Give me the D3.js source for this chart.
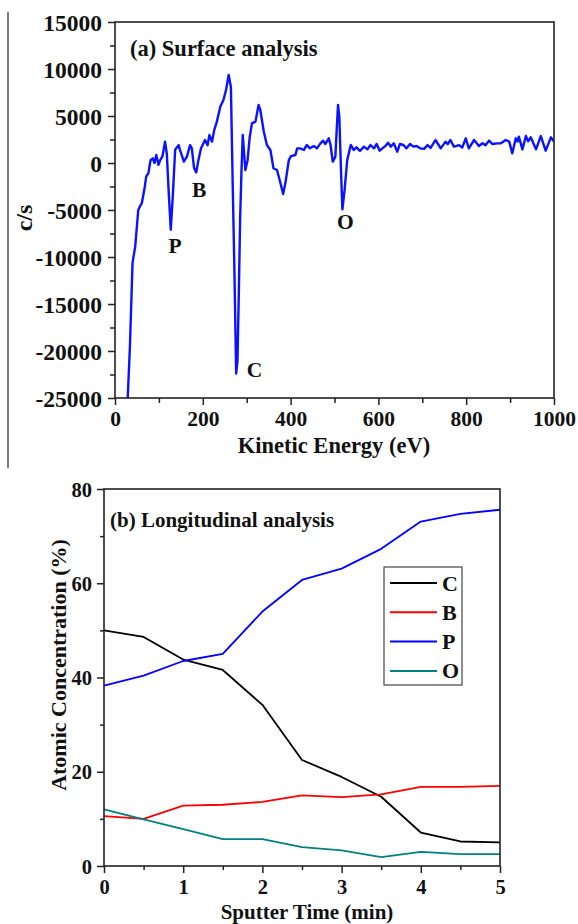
<!DOCTYPE html>
<html><head><meta charset="utf-8">
<script src="https://cdn.jsdelivr.net/npm/d3@7"></script>
<style>
html,body{margin:0;padding:0;background:#fff;}
text{font-family:"Liberation Serif","Times New Roman",serif;font-weight:bold;fill:#111;}
</style></head>
<body>
<svg id="chart" width="578" height="924"></svg>
<script>
// ---------- Data: (a) Surface analysis spectrum ----------
const energy = [29,34,40,46,53,57,61,68,71,76,81,86,90,94,99,103,108,114,118,122.5,127,132,137,145,148,157,164,171,175,180,185,190,196,205,211,215,221,226,232,240,247,253,259,264,268,272,276,279,282,285,288,291,297,302,307,312,320,327,331,339,346,354,361,369,377,383,388,396,401,411,415,422,430,437,444,453,460,468,474,479,487,491,496,502,505,508,511,515,518,523,529,537,544,550,558,567,575,582,590,596,603,609,616,622,628,635,643,649,657,664,672,680,687,695,704,712,719,730,742,753,758,764,772,784,791,799,806,818,829,837,844,852,860,871,879,890,898,905,913,917,920,928,936,941,947,959,970,981,993,1000];
const counts = [-25000,-19500,-10600,-8900,-5000,-4600,-4300,-2500,-1440,-1100,300,500,0,850,-200,300,700,2270,1000,-3230,-7100,-3230,1400,1900,1400,140,700,1900,1550,-500,-1000,300,1560,2450,1900,2980,2270,3500,4400,6000,6700,7800,9360,8100,-2000,-11400,-22400,-21000,-14000,-6060,-1000,2980,-750,300,2800,4220,4400,6170,5640,3330,1915,1380,-560,-750,-2160,-3300,-2160,320,740,850,1560,1560,1383,1915,1560,1810,1560,2093,2376,2022,2624,1915,142,674,3510,6170,4930,-1100,-4930,-2870,320,1915,1383,1667,1277,1738,1454,1915,1560,2022,1312,1560,1810,2164,1738,2093,1206,2022,1915,1560,2022,1738,1810,1560,1500,1900,1600,2447,1560,2270,2000,2447,1740,1900,1650,2625,1560,2447,1810,2093,1900,2380,2020,2093,2093,2447,2270,1029,2625,2300,2800,1455,2870,2300,2730,1455,2870,1313,2730,2270];
const peakLabels = ["P","B","C","O"];
const peakE = [137,192,318,525];
const peakV = [-9600,-3650,-22750,-7000];
const yTicksA = [-25000,-20000,-15000,-10000,-5000,0,5000,10000,15000];
const xTicksA = [0,200,400,600,800,1000];

// ---------- Data: (b) Longitudinal analysis ----------
const sputterTime = [0,0.5,1,1.5,2,2.5,3,3.5,4,4.5,5];
const seriesC = [50.0,48.6,43.8,41.6,34.2,22.5,18.9,14.7,7.1,5.2,5.0];
const seriesB = [10.6,10.0,12.8,13.0,13.6,15.0,14.6,15.2,16.8,16.8,17.0];
const seriesP = [38.3,40.4,43.5,45.0,54.0,60.7,63.1,67.3,73.1,74.7,75.6];
const seriesO = [12.0,9.9,7.8,5.7,5.7,4.0,3.3,1.9,3.0,2.5,2.5];
const seriesNames = ["C","B","P","O"];
const seriesColors = ["#000000","#ff0000","#0000ff","#008080"];
const yTicksB = [0,20,40,60,80];
const xTicksB = [0,1,2,3,4,5];

const FONT = '"Liberation Serif","Times New Roman",serif';
const svg = d3.select("#chart");
svg.append("rect").attr("width",578).attr("height",924).attr("fill","#fff");

// left artifact line of original figure
svg.append("line").attr("x1",8).attr("x2",8).attr("y1",12).attr("y2",468)
  .attr("stroke","#555").attr("stroke-width",1.5);

function styleAxis(g, size){
  g.attr("font-family",FONT).attr("font-size",size).attr("font-weight","bold");
  g.select(".domain").remove();
  g.selectAll("text").attr("font-family",FONT).style("font-size",size+"px").attr("fill","#111");
}

// ===== Panel (a) =====
const A = {l:115,r:554,t:22,b:398};
const xA = d3.scaleLinear().domain([0,1000]).range([A.l,A.r]);
const yA = d3.scaleLinear().domain([-25000,15000]).range([A.b,A.t]);
const gA = svg.append("g");

gA.append("clipPath").attr("id","clipA").append("rect")
  .attr("x",A.l).attr("y",A.t).attr("width",A.r-A.l).attr("height",A.b-A.t);

const lineA = d3.line().x((d,i)=>xA(energy[i])).y((d,i)=>yA(counts[i])).curve(d3.curveLinear);
gA.append("path").datum(counts).attr("d",lineA).attr("fill","none")
  .attr("stroke","#0a12ff").attr("stroke-width",2.4).attr("stroke-linejoin","round")
  .attr("clip-path","url(#clipA)");

// frame
gA.append("rect").attr("x",A.l).attr("y",A.t).attr("width",A.r-A.l).attr("height",A.b-A.t)
  .attr("fill","none").attr("stroke","#222").attr("stroke-width",1.6);

// axes
const minorYA = d3.range(-25000,15001,2500).filter(v=>!yTicksA.includes(v));
const minorXA = d3.range(100,1000,200);
gA.append("g").attr("transform",`translate(${A.l},0)`)
  .call(d3.axisLeft(yA).tickValues(minorYA).tickSize(5).tickFormat(""))
  .call(g=>g.select(".domain").remove());
const ayA = gA.append("g").attr("transform",`translate(${A.l},0)`)
  .call(d3.axisLeft(yA).tickValues(yTicksA).tickSize(7).tickPadding(6).tickFormat(d=>String(d)));
styleAxis(ayA, 23.5);
ayA.selectAll("text").attr("dy","0.35em");
gA.append("g").attr("transform",`translate(0,${A.b})`)
  .call(d3.axisBottom(xA).tickValues(minorXA).tickSize(5).tickFormat(""))
  .call(g=>g.select(".domain").remove());
const axA = gA.append("g").attr("transform",`translate(0,${A.b})`)
  .call(d3.axisBottom(xA).tickValues(xTicksA).tickSize(7).tickPadding(6).tickFormat(d=>String(d)));
styleAxis(axA, 21.5);
gA.selectAll(".tick line").attr("stroke","#222").attr("stroke-width",1.5);

// titles
gA.append("text").attr("x",130).attr("y",56).style("font-size","22.5px").text("(a) Surface analysis");
gA.append("text").attr("x",334).attr("y",453).attr("text-anchor","middle").style("font-size","22.5px").text("Kinetic Energy (eV)");
gA.append("text").attr("transform","translate(32,218) rotate(-90)").attr("text-anchor","middle").style("font-size","24px").text("c/s");
peakLabels.forEach((t,i)=>{
  gA.append("text").attr("x",xA(peakE[i])).attr("y",yA(peakV[i])).attr("text-anchor","middle")
    .style("font-size","21.5px").text(t);
});

// ===== Panel (b) =====
const B = {l:104,r:500,t:489,b:866};
const xB = d3.scaleLinear().domain([0,5]).range([B.l,B.r]);
const yB = d3.scaleLinear().domain([0,80]).range([B.b,B.t]);
const gB = svg.append("g");

const seriesAll = [seriesC,seriesB,seriesP,seriesO];
const lineB = d3.line().x((d,i)=>xB(sputterTime[i])).y(d=>yB(d));
seriesAll.forEach((s,k)=>{
  gB.append("path").datum(s).attr("d",lineB).attr("fill","none")
    .attr("stroke",seriesColors[k]).attr("stroke-width",1.8).attr("stroke-linejoin","round");
});

gB.append("rect").attr("x",B.l).attr("y",B.t).attr("width",B.r-B.l).attr("height",B.b-B.t)
  .attr("fill","none").attr("stroke","#222").attr("stroke-width",1.6);

const minorYB = d3.range(10,80,20);
const minorXB = d3.range(0.5,5,1);
gB.append("g").attr("transform",`translate(${B.l},0)`)
  .call(d3.axisLeft(yB).tickValues(minorYB).tickSize(4).tickFormat(""))
  .call(g=>g.select(".domain").remove());
const ayB = gB.append("g").attr("transform",`translate(${B.l},0)`)
  .call(d3.axisLeft(yB).tickValues(yTicksB).tickSize(7).tickPadding(5).tickFormat(d=>String(d)));
styleAxis(ayB, 20.5);
ayB.selectAll("text").attr("dy","0.35em");
gB.append("g").attr("transform",`translate(0,${B.b})`)
  .call(d3.axisBottom(xB).tickValues(minorXB).tickSize(4).tickFormat(""))
  .call(g=>g.select(".domain").remove());
const axB = gB.append("g").attr("transform",`translate(0,${B.b})`)
  .call(d3.axisBottom(xB).tickValues(xTicksB).tickSize(7).tickPadding(6).tickFormat(d=>String(d)));
styleAxis(axB, 20.5);
gB.selectAll(".tick line").attr("stroke","#222").attr("stroke-width",1.5);

gB.append("text").attr("x",110).attr("y",527).style("font-size","21px").text("(b) Longitudinal analysis");
gB.append("text").attr("x",307).attr("y",919).attr("text-anchor","middle").style("font-size","21px").text("Sputter Time (min)");
gB.append("text").attr("transform","translate(66,665) rotate(-90)").attr("text-anchor","middle").style("font-size","22px").text("Atomic Concentration (%)");

// legend
const leg = gB.append("g");
leg.append("rect").attr("x",384).attr("y",567).attr("width",78).attr("height",118)
  .attr("fill","#fff").attr("stroke","#444").attr("stroke-width",1.2);
seriesNames.forEach((n,k)=>{
  const y = 583 + k*29.3;
  leg.append("line").attr("x1",390).attr("x2",437).attr("y1",y).attr("y2",y)
    .attr("stroke",seriesColors[k]).attr("stroke-width",2);
  leg.append("text").attr("x",442).attr("y",y+7.5).style("font-size","22px").text(n);
});
</script>
</body></html>
